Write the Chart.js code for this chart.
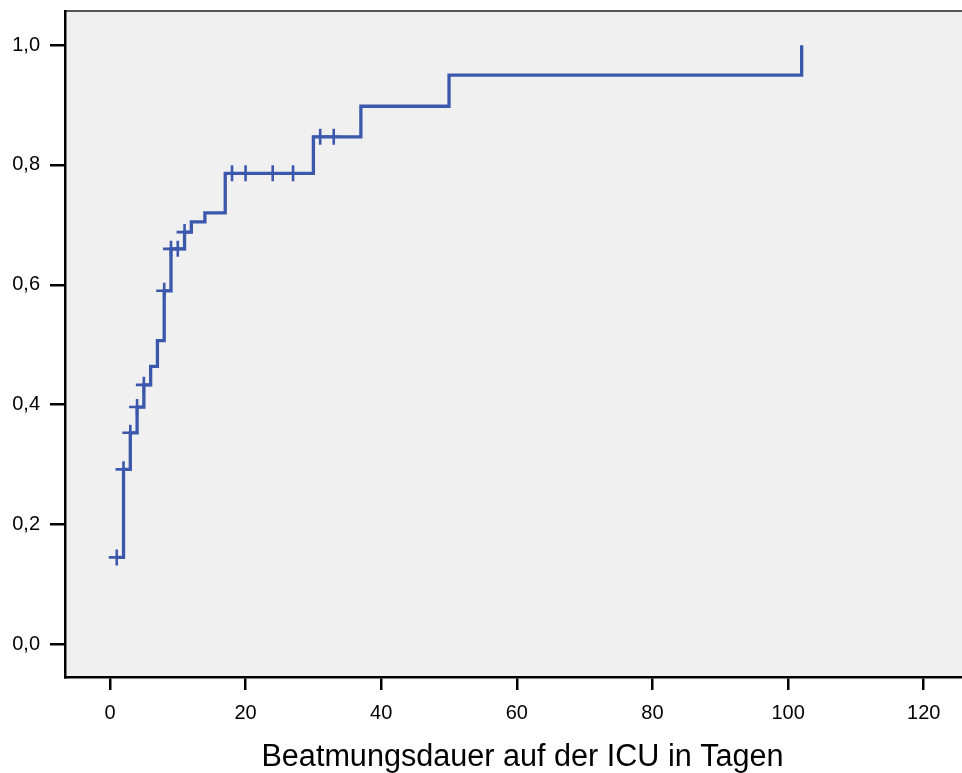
<!DOCTYPE html>
<html>
<head>
<meta charset="utf-8">
<script src="https://cdn.jsdelivr.net/npm/chart.js@4/dist/chart.umd.min.js"></script>
<style>
  html, body { margin: 0; padding: 0; background: #fff; overflow: hidden; }
  canvas { display: block; }
</style>
</head>
<body>
<canvas id="kmChart" width="980" height="773"></canvas>
<script>
// step curve: day of event -> cumulative value
const kmDays   = [1, 2, 3, 4, 5, 6, 7, 8, 9, 11, 12, 14, 17, 30, 37, 50, 102];
const kmValues = [0.145, 0.292, 0.353, 0.396, 0.433, 0.464, 0.507, 0.590, 0.660, 0.688, 0.705, 0.720, 0.786, 0.847, 0.898, 0.950, 1.0];

// censored cases (marked with +)
const censorDays   = [1, 2, 3, 4, 5, 8, 9, 10, 11, 18, 20, 24, 27, 31, 33];
const censorValues = [0.145, 0.292, 0.353, 0.396, 0.433, 0.590, 0.660, 0.660, 0.688, 0.786, 0.786, 0.786, 0.786, 0.847, 0.847];

const xTicks = [0, 20, 40, 60, 80, 100, 120];
const yTicks = [0, 0.2, 0.4, 0.6, 0.8, 1.0];
const xTitle = "Beatmungsdauer auf der ICU in Tagen";

const blue = "#3b58ad";
const font = "'Liberation Sans', Arial, sans-serif";

// gray plot background + thin top frame line
const plotBg = {
  id: "plotBg",
  beforeDraw(chart) {
    const { ctx, chartArea: a } = chart;
    ctx.save();
    ctx.fillStyle = "#f0f0f0";
    ctx.fillRect(a.left, a.top, a.right - a.left, a.bottom - a.top);
    ctx.strokeStyle = "#222";
    ctx.lineWidth = 1.5;
    ctx.beginPath();
    ctx.moveTo(a.left, a.top);
    ctx.lineTo(a.right, a.top);
    ctx.stroke();
    ctx.restore();
  }
};

new Chart(document.getElementById("kmChart"), {
  type: "line",
  data: {
    datasets: [
      {
        data: kmDays.map((d, i) => ({ x: d, y: kmValues[i] })),
        borderColor: blue,
        borderWidth: 3.3,
        stepped: true,
        pointRadius: 0,
        fill: false
      },
      {
        type: "scatter",
        data: censorDays.map((d, i) => ({ x: d, y: censorValues[i] })),
        borderColor: blue,
        backgroundColor: blue,
        pointStyle: "cross",
        pointRadius: 8,
        borderWidth: 2.6
      }
    ]
  },
  plugins: [plotBg],
  options: {
    responsive: false,
    animation: false,
    devicePixelRatio: 1,
    layout: { autoPadding: false, padding: { top: 11, right: 0, left: 0, bottom: 0 } },
    plugins: { legend: { display: false }, tooltip: { enabled: false } },
    scales: {
      x: {
        type: "linear",
        min: -6.63,
        max: 128.3,
        afterBuildTicks: s => { s.ticks = xTicks.map(v => ({ value: v })); },
        afterFit: s => { s.height = 96; s.paddingLeft = 0; s.paddingRight = 0; },
        border: { display: true, color: "#000", width: 2.5 },
        grid: { drawOnChartArea: false, drawTicks: true, tickLength: 13, tickColor: "#000", lineWidth: 2.5 },
        ticks: { color: "#000", font: { family: font, size: 20 }, padding: 11, maxRotation: 0 },
        title: {
          display: true,
          text: xTitle,
          color: "#000",
          font: { family: font, size: 30.6, lineHeight: 1.0 },
          padding: { top: 0, bottom: 0 }
        }
      },
      y: {
        min: -0.0546,
        max: 1.057,
        afterBuildTicks: s => { s.ticks = yTicks.map(v => ({ value: v })); },
        afterFit: s => { s.width = 65; s.paddingTop = 0; s.paddingBottom = 0; },
        border: { display: true, color: "#000", width: 2.5 },
        grid: { drawOnChartArea: false, drawTicks: true, tickLength: 15, tickColor: "#000", lineWidth: 2.5 },
        ticks: {
          color: "#000",
          font: { family: font, size: 20 },
          padding: 10,
          callback: v => v.toFixed(1).replace(".", ",")
        }
      }
    }
  }
});
</script>
</body>
</html>
